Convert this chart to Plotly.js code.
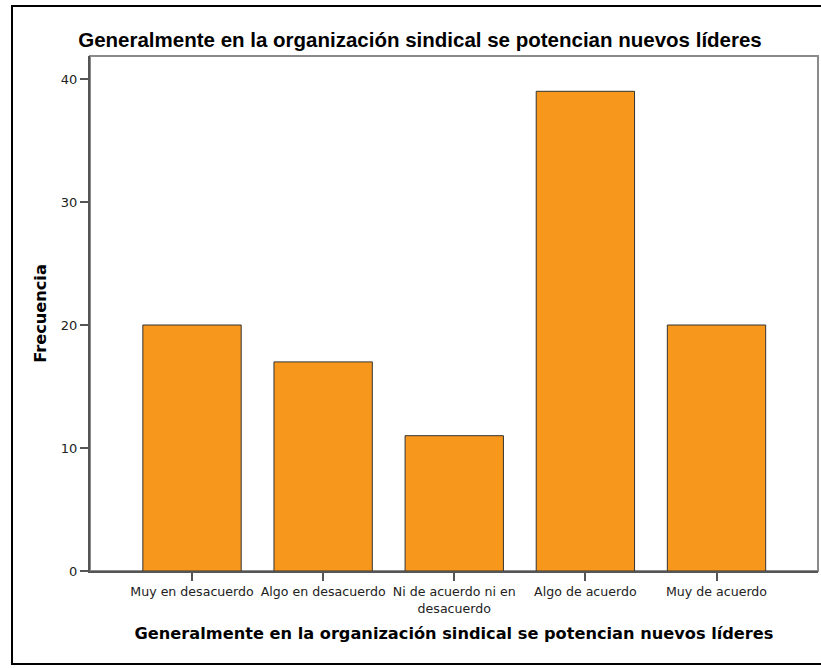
<!DOCTYPE html>
<html>
<head>
<meta charset="utf-8">
<script src="https://cdn.plot.ly/plotly-3.0.1.min.js"></script>
<style>html,body{margin:0;padding:0;background:#fff;}#chart{width:821px;height:668px;}</style>
</head>
<body>
<div id="chart"></div>
<script>
const categories = ["Muy en desacuerdo", "Algo en desacuerdo", "Ni de acuerdo ni en<br>desacuerdo", "Algo de acuerdo", "Muy de acuerdo"];
const frecuencias = [20, 17, 11, 39, 20];
const yTicks = [0, 10, 20, 30, 40];
const chartTitle = "Generalmente en la organización sindical se potencian nuevos líderes";
const xTitle = "Generalmente en la organización sindical se potencian nuevos líderes";
const yTitle = "Frecuencia";

const W = 821, H = 668;
const L = 90, R = 3, T = 56, B = 97;
const pw = W - L - R, ph = H - T - B;

const trace = {
  type: "bar",
  x: categories,
  y: frecuencias,
  marker: {color: "#F7981D", line: {color: "#333333", width: 1}},
  hoverinfo: "x+y"
};

const layout = {
  width: W, height: H,
  margin: {l: L, r: R, t: T, b: B, pad: 0},
  paper_bgcolor: "#ffffff",
  plot_bgcolor: "#ffffff",
  showlegend: false,
  bargap: 0.25,
  title: {
    text: chartTitle,
    font: {family: "Liberation Sans, Arial, sans-serif", size: 20.5, weight: "bold", color: "#000"},
    xref: "container", x: 420 / W, xanchor: "center",
    yref: "container", y: 1 - 40 / H, yanchor: "middle"
  },
  xaxis: {
    type: "category",
    range: [-0.778, 4.774],
    showline: true, linecolor: "#555", linewidth: 2,
    ticks: "outside", ticklen: 8, tickwidth: 2, tickcolor: "#555",
    showgrid: false, zeroline: false,
    tickfont: {family: "DejaVu Sans, sans-serif", size: 12.6, color: "#222"},
    title: {text: xTitle, font: {family: "DejaVu Sans, sans-serif", size: 16.2, weight: "bold", color: "#000"}, standoff: 13},
    fixedrange: true
  },
  yaxis: {
    range: [0, 41.87],
    tickvals: yTicks,
    showline: true, linecolor: "#555", linewidth: 2,
    ticks: "outside", ticklen: 8, tickwidth: 2, tickcolor: "#555",
    showgrid: false, zeroline: false,
    tickfont: {family: "DejaVu Sans, sans-serif", size: 13, color: "#222"},
    title: {text: yTitle, font: {family: "DejaVu Sans, sans-serif", size: 16.2, weight: "bold", color: "#000"}, standoff: 10},
    fixedrange: true
  },
  shapes: [
    {type: "rect", xref: "paper", yref: "paper", x0: 0, x1: 1, y0: 0, y1: 1,
     line: {color: "#8a8a8a", width: 2}, layer: "below"},
    {type: "rect", xref: "paper", yref: "paper",
     x0: (12 - L) / pw, x1: (826 - L) / pw, y0: (H - B - 664) / ph, y1: (H - B - 6) / ph,
     line: {color: "#000", width: 2}, layer: "above"}
  ]
};

Plotly.newPlot("chart", [trace], layout, {displayModeBar: false, staticPlot: true});
</script>
</body>
</html>
